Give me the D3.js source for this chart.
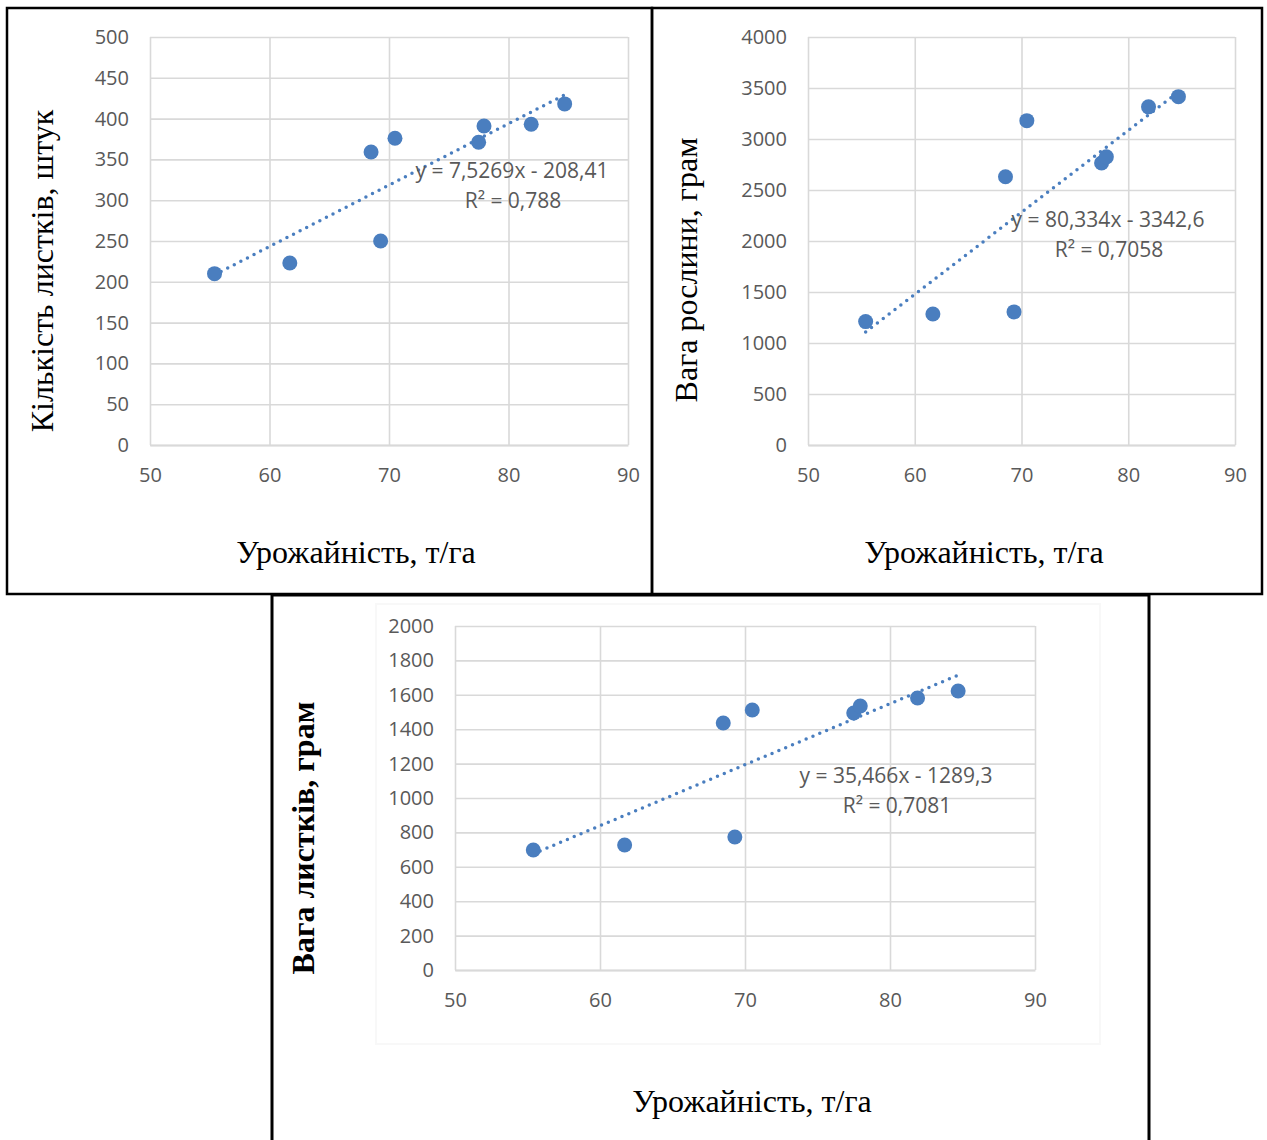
<!DOCTYPE html>
<html>
<head>
<meta charset="utf-8">
<script src="https://cdn.jsdelivr.net/npm/d3@7"></script>
<style>
  body { margin: 0; background: #fff; }
  svg { display: block; }
</style>
</head>
<body>
<div id="chart"></div>
<script>
// shared x values: yield, t/ha
const yieldVals = [55.4, 61.7, 68.5, 69.3, 70.5, 77.5, 77.95, 81.9, 84.7];

const leafCount   = [210, 223, 359, 250, 376, 371, 391, 393, 418];
const plantWeight = [1210, 1285, 2630, 1305, 3180, 2765, 2825, 3315, 3415];
const leafWeight  = [698, 727, 1436, 773, 1512, 1494, 1535, 1581, 1622];

// trendline coefficients as printed on the charts
const trendSlopes     = [7.5269, 80.334, 35.466];
const trendIntercepts = [-208.41, -3342.6, -1289.3];
const trendLabels = ["y = 7,5269x - 208,41", "y = 80,334x - 3342,6", "y = 35,466x - 1289,3"];
const r2Labels    = ["R² = 0,788", "R² = 0,7058", "R² = 0,7081"];

const xTicks = [50, 60, 70, 80, 90];
const yTicks1 = [0, 50, 100, 150, 200, 250, 300, 350, 400, 450, 500];
const yTicks2 = [0, 500, 1000, 1500, 2000, 2500, 3000, 3500, 4000];
const yTicks3 = [0, 200, 400, 600, 800, 1000, 1200, 1400, 1600, 1800, 2000];

const yTitles = ["Кількість листків, штук", "Вага рослини, грам", "Вага листків, грам"];
const xTitle = "Урожайність, т/га";

const W = 1267, H = 1140;
const dotColor = "#4a7ebf";
const gridColor = "#d9d9d9";
const tickColor = "#595959";
const fmt = d3.format("d");

const svg = d3.select("#chart").append("svg")
  .attr("width", W)
  .attr("height", H);

// panel frames
svg.append("rect").attr("x", 7).attr("y", 8).attr("width", 645).attr("height", 586)
  .attr("fill", "none").attr("stroke", "#000").attr("stroke-width", 2.5);
svg.append("rect").attr("x", 652).attr("y", 8).attr("width", 610).attr("height", 586)
  .attr("fill", "none").attr("stroke", "#000").attr("stroke-width", 2.5);
svg.append("path").attr("d", "M272,1142 V595 H1149 V1142")
  .attr("fill", "none").attr("stroke", "#000").attr("stroke-width", 3);

// faint chart area of bottom chart
svg.append("rect").attr("x", 376).attr("y", 604).attr("width", 724).attr("height", 440)
  .attr("fill", "none").attr("stroke", "#f8f8f8").attr("stroke-width", 2);

const panels = [
  {left: 150, right: 628, top: 37, bottom: 445, yMax: 500, yTicks: yTicks1, ys: leafCount,
   yTitleX: 42, yTitleY: 271, xTitleX: 356, xTitleY: 552, eqX: 512, eqY: 171, bold: false},
  {left: 808, right: 1235, top: 37, bottom: 445, yMax: 4000, yTicks: yTicks2, ys: plantWeight,
   yTitleX: 686, yTitleY: 270, xTitleX: 984, xTitleY: 552, eqX: 1108, eqY: 220, bold: false},
  {left: 455, right: 1035, top: 626, bottom: 970, yMax: 2000, yTicks: yTicks3, ys: leafWeight,
   yTitleX: 303, yTitleY: 838, xTitleX: 752, xTitleY: 1101, eqX: 896, eqY: 776, bold: true}
];

panels.forEach((p, i) => {
  const x = d3.scaleLinear().domain([50, 90]).range([p.left, p.right]);
  const y = d3.scaleLinear().domain([0, p.yMax]).range([p.bottom, p.top]);
  const g = svg.append("g");

  // horizontal grid
  g.append("g")
    .attr("transform", `translate(${p.left},0)`)
    .call(d3.axisLeft(y).tickValues(p.yTicks).tickSize(-(p.right - p.left)).tickFormat(""))
    .call(a => a.select(".domain").remove())
    .call(a => a.selectAll("line").attr("stroke", gridColor).attr("stroke-width", 1.6));

  // vertical grid
  g.append("g")
    .attr("transform", `translate(0,${p.bottom})`)
    .call(d3.axisBottom(x).tickValues(xTicks).tickSize(-(p.bottom - p.top)).tickFormat(""))
    .call(a => a.select(".domain").remove())
    .call(a => a.selectAll("line").attr("stroke", gridColor).attr("stroke-width", 1.6));

  // y tick labels
  g.append("g")
    .attr("transform", `translate(${p.left},0)`)
    .call(d3.axisLeft(y).tickValues(p.yTicks).tickSize(0).tickPadding(21).tickFormat(fmt))
    .call(a => a.select(".domain").remove())
    .call(a => a.selectAll("text")
      .attr("fill", tickColor)
      .style("font-family", "'Open Sans', sans-serif")
      .style("font-size", "20px"));

  // x tick labels
  g.append("g")
    .attr("transform", `translate(0,${p.bottom})`)
    .call(d3.axisBottom(x).tickValues(xTicks).tickSize(0).tickPadding(23).tickFormat(fmt))
    .call(a => a.select(".domain").attr("stroke", gridColor).attr("stroke-width", 1.8))
    .call(a => a.selectAll("text")
      .attr("fill", tickColor)
      .style("font-family", "'Open Sans', sans-serif")
      .style("font-size", "20px"));

  // trendline
  const xs = [d3.min(yieldVals), d3.max(yieldVals)];
  const line = d3.line()
    .x(d => x(d))
    .y(d => y(trendSlopes[i] * d + trendIntercepts[i]));
  g.append("path")
    .datum(xs)
    .attr("d", line)
    .attr("fill", "none")
    .attr("stroke", dotColor)
    .attr("stroke-width", 3.5)
    .attr("stroke-linecap", "round")
    .attr("stroke-dasharray", "0,7.4");

  // points
  g.selectAll("circle.pt")
    .data(yieldVals.map((v, k) => [v, p.ys[k]]))
    .enter().append("circle")
    .attr("class", "pt")
    .attr("cx", d => x(d[0]))
    .attr("cy", d => y(d[1]))
    .attr("r", 7.5)
    .attr("fill", dotColor);

  // equation labels
  g.append("text")
    .attr("x", p.eqX).attr("y", p.eqY)
    .attr("dy", "0.35em")
    .attr("text-anchor", "middle")
    .attr("fill", tickColor)
    .style("font-family", "'Open Sans', sans-serif")
    .style("font-size", "21px")
    .text(trendLabels[i]);
  g.append("text")
    .attr("x", p.eqX + 1).attr("y", p.eqY + 30)
    .attr("dy", "0.35em")
    .attr("text-anchor", "middle")
    .attr("fill", tickColor)
    .style("font-family", "'Open Sans', sans-serif")
    .style("font-size", "21px")
    .text(r2Labels[i]);

  // axis titles
  g.append("text")
    .attr("transform", `translate(${p.yTitleX},${p.yTitleY}) rotate(-90)`)
    .attr("dy", "0.35em")
    .attr("text-anchor", "middle")
    .attr("fill", "#000")
    .style("font-family", "'Liberation Serif', serif")
    .style("font-size", "32px")
    .style("font-weight", p.bold ? "bold" : "normal")
    .text(yTitles[i]);
  g.append("text")
    .attr("x", p.xTitleX).attr("y", p.xTitleY)
    .attr("dy", "0.35em")
    .attr("text-anchor", "middle")
    .attr("fill", "#000")
    .style("font-family", "'Liberation Serif', serif")
    .style("font-size", "32px")
    .text(xTitle);
});
</script>
</body>
</html>
